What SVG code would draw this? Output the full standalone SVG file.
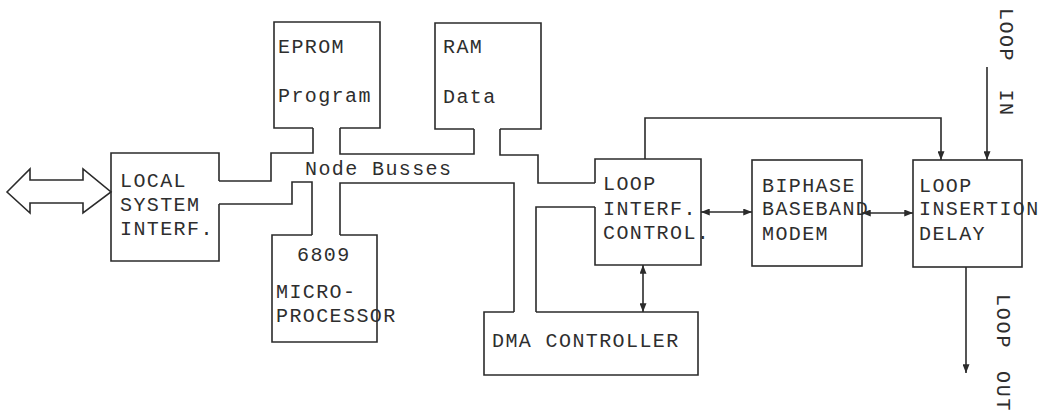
<svg xmlns="http://www.w3.org/2000/svg" width="1043" height="417" viewBox="0 0 1043 417">
<style>
.box{fill:none;stroke:#2b2b2b;stroke-width:1.6;stroke-linejoin:miter}
.wire{fill:none;stroke:#2b2b2b;stroke-width:1.6}
.t{font-family:"Liberation Mono","DejaVu Sans Mono",monospace;font-size:20px;fill:#2e2e2e;letter-spacing:1.4px}
</style>
<defs>
<marker id="ah" viewBox="0 0 10 8" refX="10" refY="4" markerWidth="9" markerHeight="7" markerUnits="userSpaceOnUse" orient="auto-start-reverse">
<path d="M0,0 L10,4 L0,8 Z" fill="#2b2b2b"/>
</marker>
</defs>
<rect width="1043" height="417" fill="#ffffff"/>

<g id="connectors">
<path class="wire" d="M7,192 L30,169 L30,180 L83,180 L83,169 L111,192 L83,213 L83,203 L30,203 L30,213 Z"/>
<path class="wire" d="M219,181 H271 V153 H313 V128"/>
<path class="wire" d="M340,128 V154 H474 V129"/>
<path class="wire" d="M500,129 V155 H538 V183 H595"/>
<path class="wire" d="M219,204 H292 V182 H312 V235"/>
<path class="wire" d="M340,235 V183 H514 V312"/>
<path class="wire" d="M536,312 V207 H595"/>
<path class="wire" d="M645,159 V118 H941 V160" marker-end="url(#ah)"/>
<line class="wire" x1="701" y1="212" x2="752" y2="212" marker-start="url(#ah)" marker-end="url(#ah)"/>
<line class="wire" x1="862" y1="213" x2="913" y2="213" marker-start="url(#ah)" marker-end="url(#ah)"/>
<line class="wire" x1="643" y1="265" x2="643" y2="312" marker-start="url(#ah)" marker-end="url(#ah)"/>
<line class="wire" x1="987" y1="67" x2="987" y2="160" marker-end="url(#ah)"/>
<line class="wire" x1="966" y1="267" x2="966" y2="373" marker-end="url(#ah)"/>
</g>

<g id="local">
<path class="box" d="M219,181 V153 H111 V261 H219 V204"/>
<text class="t" x="120" y="187">LOCAL</text>
<text class="t" x="120" y="211">SYSTEM</text>
<text class="t" x="120" y="235">INTERF.</text>
</g>

<g id="eprom">
<path class="box" d="M313,128 H274 V22 H380 V128 H340"/>
<text class="t" x="278" y="53">EPROM</text>
<text class="t" x="278" y="102">Program</text>
</g>

<g id="ram">
<path class="box" d="M474,129 H435 V23 H541 V129 H500"/>
<text class="t" x="443" y="53">RAM</text>
<text class="t" x="443" y="103">Data</text>
</g>

<g id="busses">
<text class="t" x="305" y="175">Node Busses</text>
</g>

<g id="cpu">
<path class="box" d="M312,235 H272 V342 H377 V235 H340"/>
<text class="t" x="297" y="261">6809</text>
<text class="t" x="276" y="298">MICRO-</text>
<text class="t" x="276" y="322">PROCESSOR</text>
</g>

<g id="dma">
<path class="box" d="M514,312 H484 V375 H698 V312 H536"/>
<text class="t" x="492" y="347">DMA CONTROLLER</text>
</g>

<g id="loopinterf">
<path class="box" d="M595,183 V159 H701 V265 H595 V207"/>
<text class="t" x="603" y="190">LOOP</text>
<text class="t" x="603" y="215">INTERF.</text>
<text class="t" x="603" y="239">CONTROL.</text>
</g>

<g id="modem">
<rect class="box" x="752" y="160" width="110" height="106"/>
<text class="t" x="762" y="192">BIPHASE</text>
<text class="t" x="762" y="215">BASEBAND</text>
<text class="t" x="762" y="240">MODEM</text>
</g>

<g id="insertion">
<rect class="box" x="913" y="160" width="109" height="107"/>
<text class="t" x="919" y="192">LOOP</text>
<text class="t" x="919" y="215">INSERTION</text>
<text class="t" x="919" y="240">DELAY</text>
</g>

<g id="loopin">
<text class="t" x="1000" y="8" transform="rotate(90 1000 8)" style="letter-spacing:1.5px" word-spacing="14">LOOP IN</text>
</g>

<g id="loopout">
<text class="t" x="997" y="294" transform="rotate(90 997 294)" style="letter-spacing:1.8px" word-spacing="8">LOOP OUT</text>
</g>
</svg>
